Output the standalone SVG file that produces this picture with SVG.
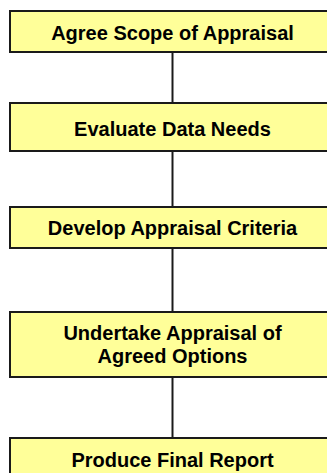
<svg xmlns="http://www.w3.org/2000/svg" width="327" height="473" viewBox="0 0 327 473">
<style>
.box{fill:#FFFF99;stroke:#1a1a1a;stroke-width:2}
.lbl{font-family:"Liberation Sans",Arial,sans-serif;font-weight:bold;font-size:20px;fill:#000;text-anchor:middle}
.con{stroke:#1a1a1a;stroke-width:2;fill:none}
</style>
<rect width="327" height="473" fill="#fff"/>
<g id="connectors">
<line class="con" x1="172.5" y1="52" x2="172.5" y2="103"/>
<line class="con" x1="172.5" y1="151" x2="172.5" y2="207"/>
<line class="con" x1="172.5" y1="248" x2="172.5" y2="312"/>
<line class="con" x1="172.5" y1="377" x2="172.5" y2="438"/>
</g>
<g id="n1"><rect class="box" x="10" y="11" width="330" height="41"/><text class="lbl" x="172.5" y="40">Agree Scope of Appraisal</text></g>
<g id="n2"><rect class="box" x="10" y="103" width="330" height="48"/><text class="lbl" x="172.5" y="136">Evaluate Data Needs</text></g>
<g id="n3"><rect class="box" x="10" y="207" width="330" height="41"/><text class="lbl" x="172.5" y="235">Develop Appraisal Criteria</text></g>
<g id="n4"><rect class="box" x="10" y="312" width="330" height="65"/><text class="lbl" x="172.5" y="340">Undertake Appraisal of</text><text class="lbl" x="172.5" y="363">Agreed Options</text></g>
<g id="n5"><rect class="box" x="10" y="438" width="330" height="60"/><text class="lbl" x="172.5" y="467">Produce Final Report</text></g>
</svg>
